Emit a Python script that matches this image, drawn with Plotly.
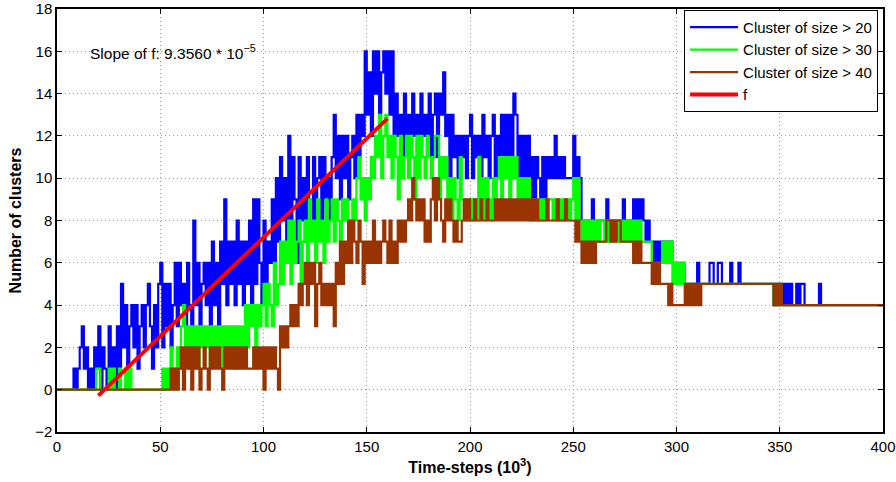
import plotly.graph_objects as go

# time axis in units of 10^3 time-steps (one value per 1k steps)
time_k = list(range(0, 401))

# number of clusters with size > 20
size20 = [
    0, 0, 0, 0, 0, 0, 0, 0, 1, 0,
    1, 2, 3, 1, 2, 0, 1, 0, 2, 1,
    3, 0, 2, 1, 0, 3, 1, 2, 0, 3,
    1, 5, 2, 4, 1, 3, 4, 2, 4, 1,
    3, 4, 2, 4, 5, 3, 1, 4, 2, 5,
    6, 2, 5, 3, 5, 2, 4, 6, 3, 6,
    4, 5, 3, 6, 4, 3, 8, 4, 6, 3,
    5, 6, 4, 6, 3, 7, 4, 6, 3, 7,
    5, 9, 4, 7, 5, 7, 4, 8, 5, 7,
    4, 7, 5, 8, 4, 9, 5, 9, 6, 4,
    8, 5, 7, 6, 9, 6, 10, 7, 11, 8,
    10, 7, 12, 8, 11, 9, 6, 11, 8, 10,
    7, 11, 9, 8, 11, 7, 10, 11, 8, 11,
    9, 10, 8, 11, 13, 10, 12, 9, 12, 10,
    12, 9, 11, 12, 10, 13, 11, 13, 12, 16,
    13, 15, 12, 16, 14, 16, 13, 15, 16, 14,
    16, 13, 16, 12, 14, 12, 13, 11, 14, 12,
    13, 11, 14, 12, 13, 11, 14, 12, 13, 12,
    14, 11, 13, 14, 11, 14, 13, 15, 12, 13,
    10, 13, 11, 12, 10, 12, 11, 12, 10, 12,
    13, 10, 12, 11, 12, 10, 13, 11, 12, 10,
    12, 13, 10, 12, 11, 13, 10, 13, 11, 13,
    10, 14, 13, 10, 12, 9, 12, 10, 12, 9,
    11, 9, 11, 10, 9, 11, 9, 11, 10, 11,
    10, 12, 10, 11, 10, 11, 10, 10, 10, 10,
    12, 9, 11, 10, 8, 8, 8, 8, 8, 9,
    8, 8, 8, 8, 8, 8, 9, 8, 8, 8,
    8, 8, 8, 8, 9, 8, 8, 8, 8, 9,
    8, 9, 8, 9, 8, 7, 8, 7, 7, 6,
    7, 6, 7, 7, 7, 7, 7, 7, 6, 6,
    6, 6, 5, 6, 5, 5, 5, 5, 5, 5,
    6, 5, 5, 5, 5, 5, 6, 6, 5, 5,
    6, 6, 5, 5, 5, 5, 6, 5, 5, 5,
    6, 5, 5, 5, 5, 5, 5, 5, 5, 5,
    5, 5, 5, 5, 5, 5, 5, 4, 5, 4,
    5, 5, 4, 5, 4, 5, 4, 4, 5, 4,
    5, 5, 4, 4, 4, 4, 4, 4, 4, 5,
    4, 4, 4, 4, 4, 4, 4, 4, 4, 4,
    4, 4, 4, 4, 4, 4, 4, 4, 4, 4,
    4, 4, 4, 4, 4, 4, 4, 4, 4, 4,
    4,
]

# number of clusters with size > 30
size30 = [
    0, 0, 0, 0, 0, 0, 0, 0, 0, 0,
    0, 0, 0, 0, 0, 0, 0, 0, 0, 1,
    1, 0, 0, 0, 0, 1, 0, 1, 0, 0,
    1, 0, 0, 1, 0, 1, 0, 0, 0, 0,
    0, 0, 0, 0, 0, 0, 0, 0, 0, 0,
    0, 1, 0, 1, 0, 2, 1, 0, 2, 1,
    3, 4, 2, 3, 1, 3, 2, 3, 1, 3,
    2, 3, 2, 3, 1, 3, 2, 3, 2, 3,
    1, 3, 2, 3, 2, 3, 1, 3, 2, 3,
    2, 4, 2, 4, 3, 4, 1, 4, 3, 4,
    5, 3, 5, 4, 3, 6, 4, 5, 7, 5,
    7, 6, 8, 5, 8, 6, 7, 8, 5, 7,
    8, 6, 9, 7, 8, 6, 9, 7, 8, 6,
    9, 7, 8, 9, 7, 9, 8, 7, 9, 8,
    9, 7, 8, 9, 8, 10, 11, 9, 10, 8,
    10, 9, 11, 10, 12, 11, 13, 10, 12, 13,
    11, 12, 10, 12, 11, 9, 12, 10, 11, 12,
    10, 12, 11, 9, 12, 10, 12, 11, 10, 12,
    11, 10, 11, 12, 12, 9, 11, 10, 11, 9,
    10, 8, 10, 9, 8, 11, 9, 8, 9, 8,
    9, 8, 9, 8, 11, 9, 10, 8, 10, 9,
    8, 10, 9, 10, 11, 9, 11, 10, 11, 9,
    11, 10, 11, 9, 10, 9, 10, 9, 10, 8,
    9, 8, 9, 8, 9, 8, 9, 8, 9, 9,
    8, 9, 8, 9, 8, 9, 8, 9, 8, 9,
    10, 8, 10, 8, 7, 8, 7, 8, 7, 8,
    7, 8, 7, 8, 8, 7, 8, 7, 8, 7,
    8, 7, 8, 7, 8, 7, 8, 7, 8, 7,
    8, 7, 8, 7, 7, 7, 7, 7, 6, 6,
    6, 6, 6, 7, 6, 7, 6, 7, 5, 6,
    5, 6, 5, 6, 5, 5, 5, 5, 5, 5,
    5, 5, 5, 5, 5, 5, 5, 5, 5, 5,
    5, 5, 5, 5, 5, 5, 5, 5, 5, 5,
    5, 5, 5, 5, 5, 5, 5, 5, 5, 5,
    5, 5, 5, 5, 5, 5, 5, 4, 5, 4,
    5, 4, 4, 4, 4, 4, 4, 4, 4, 4,
    4, 4, 4, 4, 4, 4, 4, 4, 4, 4,
    4, 4, 4, 4, 4, 4, 4, 4, 4, 4,
    4, 4, 4, 4, 4, 4, 4, 4, 4, 4,
    4, 4, 4, 4, 4, 4, 4, 4, 4, 4,
    4,
]

# number of clusters with size > 40
size40 = [
    0, 0, 0, 0, 0, 0, 0, 0, 0, 0,
    0, 0, 0, 0, 0, 0, 0, 0, 0, 0,
    0, 0, 0, 0, 0, 0, 0, 0, 0, 0,
    0, 0, 0, 0, 0, 0, 0, 0, 0, 0,
    0, 0, 0, 0, 0, 0, 0, 0, 0, 0,
    0, 0, 0, 0, 0, 1, 0, 1, 0, 1,
    2, 0, 2, 1, 2, 0, 2, 1, 2, 0,
    1, 2, 1, 0, 2, 1, 2, 1, 2, 1,
    0, 2, 1, 2, 1, 2, 1, 2, 1, 2,
    1, 2, 1, 1, 1, 2, 1, 2, 1, 2,
    0, 2, 1, 2, 1, 2, 1, 0, 3, 2,
    3, 2, 3, 4, 3, 4, 3, 5, 4, 5,
    6, 4, 6, 5, 6, 3, 5, 6, 4, 5,
    4, 5, 4, 5, 3, 6, 5, 7, 5, 7,
    6, 8, 6, 8, 7, 6, 8, 7, 5, 7,
    6, 7, 6, 8, 6, 7, 6, 7, 8, 7,
    6, 8, 6, 7, 6, 8, 7, 8, 7, 8,
    9, 8, 10, 9, 8, 9, 8, 9, 7, 8,
    7, 9, 10, 8, 10, 9, 8, 7, 9, 8,
    9, 8, 7, 8, 7, 7, 8, 9, 8, 9,
    8, 8, 9, 8, 8, 9, 8, 8, 9, 8,
    8, 8, 9, 8, 9, 8, 9, 8, 9, 8,
    9, 8, 9, 8, 9, 8, 9, 8, 9, 8,
    9, 8, 9, 8, 8, 8, 8, 9, 8, 8,
    8, 8, 9, 8, 8, 8, 9, 8, 8, 8,
    8, 7, 8, 7, 6, 7, 6, 7, 6, 7,
    6, 7, 7, 7, 7, 7, 8, 8, 7, 8,
    7, 8, 8, 7, 7, 7, 7, 7, 7, 6,
    7, 6, 7, 6, 6, 6, 6, 6, 5, 6,
    5, 6, 5, 5, 5, 5, 4, 5, 4, 4,
    4, 4, 4, 4, 5, 4, 5, 4, 5, 4,
    5, 4, 5, 5, 5, 5, 5, 5, 5, 5,
    5, 5, 5, 5, 5, 5, 5, 5, 5, 5,
    5, 5, 5, 5, 5, 5, 5, 5, 5, 5,
    5, 5, 5, 5, 5, 5, 5, 4, 5, 4,
    5, 4, 4, 4, 4, 4, 4, 4, 4, 4,
    4, 4, 4, 4, 4, 4, 4, 4, 4, 4,
    4, 4, 4, 4, 4, 4, 4, 4, 4, 4,
    4, 4, 4, 4, 4, 4, 4, 4, 4, 4,
    4, 4, 4, 4, 4, 4, 4, 4, 4, 4,
    4,
]

assert len(size20) == len(time_k) == len(size30) == len(size40)

# fitted line f
slope_f = 9.3560e-5        # clusters per time-step
intercept_f = -2.15        # clusters
f_range_k = [20, 160]      # in 10^3 time-steps
f_y = [slope_f * 1000 * t + intercept_f for t in f_range_k]

series_names = ["Cluster of size &gt; 20", "Cluster of size &gt; 30", "Cluster of size &gt; 40"]
series_colors = ["#0000ff", "#00ff00", "#993300"]

FONT = "Liberation Sans, Arial, Helvetica, sans-serif"

fig = go.Figure()
for vals, name, col in zip([size20, size30, size40], series_names, series_colors):
    fig.add_trace(go.Scatter(
        x=time_k, y=vals, mode="lines", name=name,
        line=dict(color=col, width=2.2, shape="hv", simplify=False),
    ))
fig.add_trace(go.Scatter(
    x=f_range_k, y=f_y, mode="lines", name="f",
    line=dict(color="#ff0000", width=4),
))

fig.add_annotation(
    x=14.8, y=15.95, xref="x", yref="y", xanchor="left", yanchor="middle",
    text="Slope of f: 9.3560 * 10<sup>\u22125</sup>", showarrow=False,
    font=dict(family=FONT, size=15.5, color="black"),
)

axis_common = dict(
    showline=True, linecolor="black", linewidth=1.5, mirror="ticks",
    ticks="inside", ticklen=5, tickcolor="black", tickwidth=1,
    showgrid=True, gridcolor="#9a9a9a", gridwidth=1, griddash="1px,3px",
    zeroline=False, automargin=False,
    tickfont=dict(family=FONT, size=15, color="black"),
)

fig.update_xaxes(range=[0, 400], dtick=50, tick0=0,
                 title=dict(text="<b>Time-steps (10<sup>3</sup>)</b>",
                            font=dict(family=FONT, size=16, color="black"), standoff=8),
                 **axis_common)
fig.update_yaxes(range=[-2, 18], dtick=2, tick0=0,
                 title=dict(text="<b>Number of clusters</b>",
                            font=dict(family=FONT, size=16, color="black"), standoff=10),
                 **axis_common)

fig.update_layout(
    width=896, height=482,
    margin=dict(l=57, r=13, t=9, b=50),
    paper_bgcolor="white", plot_bgcolor="white",
    font=dict(family=FONT, size=15, color="black"),
    showlegend=True,
    legend=dict(
        x=0.994, y=0.998, xanchor="right", yanchor="top",
        bgcolor="white", bordercolor="black", borderwidth=1,
        font=dict(family=FONT, size=15, color="black"),
        itemwidth=48, tracegroupgap=0,
    ),
)

fig.write_html("out.html")
